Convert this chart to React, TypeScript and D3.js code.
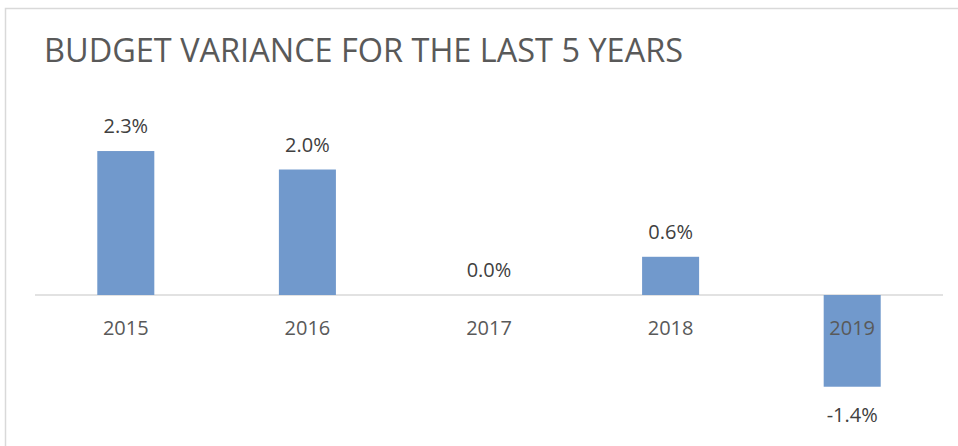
import React from "react";
import * as d3 from "d3";

const years = ["2015", "2016", "2017", "2018", "2019"];
const variance = [2.26, 1.97, 0, 0.6, -1.44];
const title = "BUDGET VARIANCE FOR THE LAST 5 YEARS";

const W = 958;
const H = 446;
const FONT = "'Open Sans', 'Liberation Sans', sans-serif";

export default function App() {
  const x = d3
    .scaleBand<string>()
    .domain(years)
    .range([35, 943])
    .paddingInner(0.686)
    .paddingOuter(0.343);
  const y = d3.scaleLinear().domain([-2, 2.5]).range([422.4, 135.75]);
  const y0 = y(0);
  const fmt = (v: number) => v.toFixed(1) + "%";

  return (
    <svg
      width={W}
      height={H}
      style={{ position: "absolute", left: 0, top: 0, background: "#fff" }}
      fontFamily={FONT}
    >
      <rect x={0} y={0} width={W} height={H} fill="#fff" />
      <rect x={5.5} y={8.5} width={1000} height={1000} fill="none" stroke="#d9d9d9" strokeWidth={1.5} />
      <text x={44} y={62} fontSize={32.5} fill="#595959" textLength={639} lengthAdjust="spacingAndGlyphs">
        {title}
      </text>
      <line x1={35} x2={943} y1={y0} y2={y0} stroke="#d9d9d9" strokeWidth={1.5} />
      {years.map((yr, i) => {
        const v = variance[i];
        const bx = x(yr)!;
        const bw = x.bandwidth();
        const top = Math.min(y(v), y0);
        const h = Math.abs(y(v) - y0);
        const cx = bx + bw / 2;
        const labelY = v >= 0 ? y(v) - 18 : y(v) + 35;
        return (
          <g key={yr}>
            {h > 0 && <rect x={bx} y={top} width={bw} height={h} fill="#7199cc" />}
            <text x={cx} y={labelY} textAnchor="middle" fontSize={20} fill="#404040">
              {fmt(v)}
            </text>
            <text x={cx} y={335} textAnchor="middle" fontSize={20} fill="#595959">
              {yr}
            </text>
          </g>
        );
      })}
    </svg>
  );
}
